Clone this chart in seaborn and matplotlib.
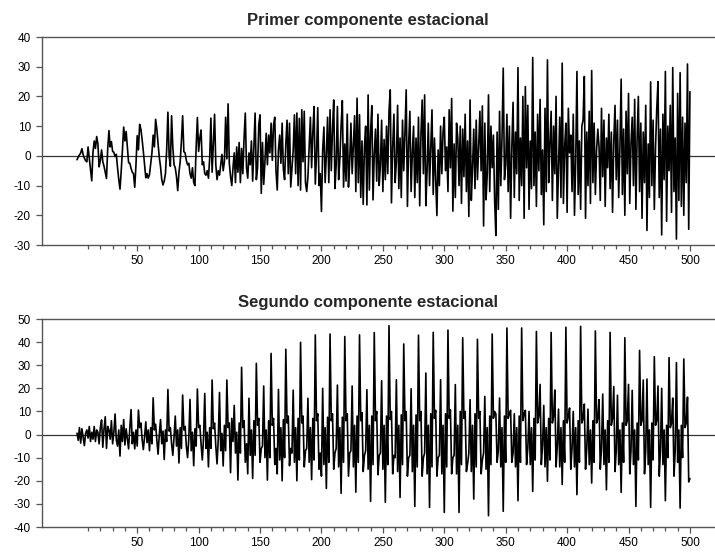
import numpy as np
import pandas as pd
import matplotlib
matplotlib.use("Agg")
import matplotlib.pyplot as plt
import seaborn as sns
from matplotlib.ticker import FixedLocator

titulo_1 = "Primer componente estacional"
titulo_2 = "Segundo componente estacional"
xticks_major = [50, 100, 150, 200, 250, 300, 350, 400, 450, 500]
xticks_minor = [v for v in range(10, 501, 10) if v % 50 != 0]
yticks_1 = [-30, -20, -10, 0, 10, 20, 30, 40]
yticks_2 = [-40, -30, -20, -10, 0, 10, 20, 30, 40, 50]

primer_componente = [
    -1.3, -0.4, 0.3, 1.0, 2.4, 0.4, -0.8, -1.6, -2.0, 3.0, -0.8, -4.5,
    -8.4, 1.2, 5.0, 2.5, 6.5, 4.0, -3.7, -1.5, 2.0, -2.0, -3.5, -5.5,
    -7.6, 2.5, 8.5, 3.0, 4.8, 1.5, 1.2, -0.2, 0.5, -4.0, -8.0, -11.2,
    -5.0, 2.0, 9.7, 5.0, 8.2, 3.0, -2.3, -2.5, -4.2, -5.5, -6.0, -10.6,
    -3.0, 6.8, 2.0, 10.6, 9.0, 5.5, 1.5, -3.0, -7.4, -6.0, -7.5, -6.3,
    -2.5, 1.0, 7.0, 3.0, 12.3, 9.0, 4.0, -0.5, -3.7, -8.0, -9.8, -8.5,
    -6.0, 2.0, 14.7, 0.0, -3.5, 13.5, 3.0, -3.0, -4.0, -7.0, -11.7, -5.5,
    -2.0, 5.0, 13.5, 1.4, 1.0, -1.5, -3.0, -2.5, -6.0, -7.5, -4.0, -9.0,
    -10.0, 3.0, 12.9, 1.5, 6.0, 8.7, -3.0, -2.0, -6.0, -6.5, -5.0, -7.5,
    -1.0, 12.7, -5.5, 4.0, 14.0, -3.0, -8.0, -5.0, -6.5, -3.0, 0.5, -5.0,
    -2.0, 13.0, -1.0, 17.5, -2.5, -7.0, -10.0, -4.0, 1.0, -9.0, 3.0, -5.5,
    4.5, -9.0, 2.5, -6.0, 6.0, 14.4, -4.0, -7.5, 1.0, -3.0, 5.0, -8.5,
    3.0, 14.4, -8.0, -4.0, 10.5, 13.8, -12.6, 4.5, -9.6, -2.0, 7.6, -3.0,
    7.0, 1.0, 11.0, -1.5, 10.5, 13.0, -5.0, -11.5, 2.0, 7.0, -2.5, 11.0,
    -4.5, -8.0, 4.0, 12.0, -6.0, 11.0, -10.5, -4.0, 2.0, 13.8, -6.0, 14.4,
    -10.0, 12.6, -11.5, 15.5, -2.0, 15.0, -9.0, -12.0, -7.0, 3.0, 13.0, -4.0,
    8.0, 16.6, -9.5, 0.5, 16.2, -10.0, -6.0, -18.7, 2.0, 9.7, -9.0, 0.5,
    13.0, -9.0, 15.5, -5.0, 9.0, 18.8, -11.0, -3.0, 16.6, -8.0, -1.0, 10.0,
    18.6, -10.5, 4.0, -8.5, 14.0, -10.5, -2.0, 11.0, -6.0, 4.0, 13.5, -12.0,
    19.4, -9.0, 13.8, -14.0, 5.0, -16.3, 3.0, 10.0, -16.5, 20.5, -11.5, 8.0,
    16.9, -14.8, 0.5, 9.0, -8.5, 14.0, -10.0, -3.0, 12.0, -12.0, 5.5, -8.0,
    10.0, -6.0, 15.0, 22.2, -15.8, 3.0, 14.0, -9.0, -2.0, 17.0, -11.0, 6.0,
    -14.0, 12.0, -5.0, 8.0, 22.2, -17.0, 4.0, 15.0, -12.0, 1.0, 10.0, -14.0,
    6.0, -9.0, 13.0, -16.8, 7.0, 18.8, -6.0, 20.5, -16.8, -5.0, 11.0, -10.0,
    3.0, 15.5, -13.0, 6.0, -8.0, -20.1, 2.0, -10.0, 10.0, -6.0, 8.0, 13.0,
    -5.0, 3.0, -12.0, 15.5, -4.0, 19.3, -18.6, 4.0, -14.0, 11.0, 6.0, -10.0,
    10.0, -16.0, 9.0, -7.0, 14.0, -12.0, 5.0, -20.4, 18.8, -15.0, -4.0, 9.0,
    -11.0, 12.0, -8.0, 3.0, 15.0, -5.0, 16.8, -23.6, 11.0, -14.8, -6.0, 20.5,
    -12.0, 10.0, -4.0, 7.0, -15.0, -26.8, 8.0, -18.0, 15.0, -10.0, 6.0, 29.5,
    -8.0, -3.0, 14.0, -12.0, 10.0, -21.0, 3.0, 18.0, -14.0, 8.0, -6.0, 29.7,
    -15.0, 6.0, -10.0, 20.0, -21.0, 23.3, -4.0, 17.0, -18.0, 5.0, -11.0, 33.1,
    -10.0, 8.0, -17.0, 14.0, -5.0, 19.0, -13.0, 2.0, -23.2, 16.0, -12.0, 32.3,
    -9.0, 4.0, 15.0, -15.0, 10.0, -6.0, 20.0, -21.0, -4.0, 13.0, -14.0, 31.2,
    -16.0, 3.0, 11.0, -19.0, 16.0, 1.0, 7.0, -12.0, 14.0, -20.0, -2.0, 28.4,
    -13.0, 5.0, -18.0, 10.0, 12.0, 26.7, -21.0, 8.0, -10.0, 15.0, -16.0, 28.7,
    -9.0, 11.0, -13.0, 2.0, 9.0, 3.0, -15.0, 16.0, -7.0, 12.0, -17.0, 6.0,
    -4.0, 14.0, -11.0, 8.0, -19.0, 5.0, 17.0, -8.0, 12.0, -14.0, 3.0, 25.8,
    -13.0, 9.0, -20.0, 15.0, -6.0, 21.0, -16.0, 4.0, 13.0, -10.0, 19.0, -18.0,
    6.0, 20.0, -12.0, 11.0, -21.0, 8.0, -9.0, 17.0, -25.1, 4.0, -14.0, 24.9,
    -10.0, 12.0, -18.0, 3.0, 16.0, 25.0, -14.0, 9.0, -26.6, 14.0, -8.0, 28.4,
    -22.0, 10.0, -5.0, 17.0, -19.0, 29.7, -12.0, 6.0, -28.0, 21.0, -15.0, 28.0,
    -17.0, 13.0, -20.0, 11.0, -9.0, 30.9, -24.7, 21.6,
]

segundo_componente = [
    0.6, -2.5, 3.0, -3.7, 2.5, -1.0, -4.8, 0.5, 2.0, -1.5, 3.5, -3.0,
    1.0, -2.0, 3.5, -3.0, 2.0, 1.0, -4.0, 3.0, 6.3, -5.5, 2.5, 7.7,
    -6.0, 3.5, 2.0, -2.0, 6.0, -4.0, 1.0, 8.9, -2.5, -5.0, 2.0, -9.3,
    4.0, -3.0, 6.5, -4.5, 2.5, -2.0, -6.2, 3.0, 10.8, -4.0, 1.0, -6.2,
    2.0, -5.0, 10.6, 3.0, 5.0, -2.0, -6.5, -1.0, 5.5, -3.5, 2.0, -7.0,
    3.0, -4.0, 15.9, 2.0, 4.5, -2.5, -8.5, 0.0, 6.5, -4.0, 1.5, -10.8,
    2.0, -3.0, 19.5, 1.5, 3.0, -4.0, -9.0, -1.0, 8.0, -5.0, 2.0, -12.3,
    3.0, -6.0, 17.1, 2.0, 3.5, -5.0, -10.0, -2.0, 15.2, -7.0, 1.0, -13.5,
    2.5, -5.0, 19.7, 3.0, 4.0, -4.0, -11.0, -1.5, 17.8, -6.0, 1.0, -14.0,
    3.0, -6.0, 23.6, 2.5, 5.0, -5.0, -12.7, -2.0, 18.2, -7.0, 0.5, -13.6,
    4.0, -7.0, 23.6, 3.0, 5.0, -16.5, 7.0, -3.0, 12.6, -8.0, 1.0, -19.7,
    5.0, -8.0, 29.1, 3.0, 6.0, -12.0, -4.0, -17.0, 15.7, -9.0, 2.0, -19.0,
    6.0, -9.0, 30.8, 4.0, 7.0, -12.0, -6.0, -5.0, 21.0, -10.0, 2.0, -19.7,
    6.0, -10.0, 35.1, 4.0, 7.0, -13.0, -6.0, -17.0, 19.5, -11.0, 3.0, -20.0,
    6.5, -10.0, 36.9, 5.0, 8.0, -13.5, -6.0, -8.0, 19.2, -12.0, 3.0, -20.0,
    7.0, -11.0, 39.9, 5.0, 8.0, -14.0, -7.0, -6.0, 15.7, -12.0, 3.0, -19.5,
    7.0, -11.0, 43.1, 6.0, 9.0, -15.0, -8.0, -18.0, 20.0, -13.0, 3.0, -23.3,
    7.5, -12.0, 43.5, 6.0, 9.0, -15.0, -8.0, -6.0, 21.4, -14.0, 3.0, -25.4,
    7.5, -12.0, 42.4, 6.0, 9.0, -18.0, -8.0, -7.0, 21.0, -14.0, 4.0, -24.9,
    8.0, -12.0, 43.1, 6.0, 9.5, -16.0, -9.0, -7.0, 19.4, -15.0, 4.0, -28.9,
    8.0, -13.0, 44.1, 6.0, 10.0, -17.4, -9.0, -8.0, 23.3, -15.0, 4.0, -29.3,
    8.0, -13.0, 47.1, 6.5, 10.0, -17.0, -9.0, -10.0, 23.7, -16.0, 4.0, -27.2,
    8.5, -13.0, 39.2, 6.0, 10.0, -18.0, -10.0, -9.0, 19.8, -16.0, 4.0, -31.1,
    8.5, -14.0, 43.0, 6.0, 10.0, -18.0, -10.0, -8.0, 26.6, -17.0, 4.0, -31.5,
    9.0, -14.0, 44.2, 7.0, 10.5, -18.0, -10.0, -9.0, 23.7, -17.0, 4.0, -33.7,
    9.0, -14.0, 45.2, 7.0, 10.7, -17.0, -10.0, -9.0, 21.6, -17.0, 4.0, -33.7,
    10.0, -13.0, 41.9, 7.0, 10.0, -16.0, -12.6, -8.0, 15.1, -16.0, 4.0, -27.9,
    9.0, -14.0, 41.2, 7.0, 10.0, -17.0, -11.0, -8.0, 16.5, -15.0, 3.0, -35.1,
    8.0, -13.0, 43.5, 7.0, 10.0, 9.0, -12.0, -7.0, 15.8, -14.0, 3.0, -33.2,
    8.0, -12.0, 46.1, 7.0, 9.0, 10.5, -12.0, -8.0, 9.0, -14.0, 3.0, -28.6,
    8.0, -12.0, 46.1, 6.0, 9.0, 10.5, -13.0, -6.0, 10.0, -13.0, 3.0, -24.6,
    7.0, -11.0, 44.6, 5.0, 8.0, 21.7, -13.0, -5.0, 12.6, -14.0, 3.0, -20.2,
    7.0, -11.0, 44.2, 5.0, 8.0, 19.3, -14.0, -5.0, 11.0, -14.0, 3.0, -21.6,
    6.0, -12.0, 46.4, 5.0, 8.0, 11.5, -15.0, -6.0, 10.0, -14.0, 3.0, -26.0,
    6.0, -12.0, 46.8, 5.0, 7.0, 13.2, -15.0, -6.0, 11.0, -13.0, 2.0, -21.0,
    6.0, -12.0, 44.8, 5.0, 7.0, 15.1, -15.0, -6.0, 17.5, -13.0, 2.0, -23.9,
    6.0, -12.0, 44.2, 4.0, 7.0, 20.8, -16.0, -7.0, 17.0, -13.0, 2.0, -25.0,
    5.0, -12.0, 41.9, 4.0, 6.0, 21.7, -17.0, -7.0, 19.1, -13.0, 2.0, -31.1,
    5.0, -11.0, 36.4, 4.0, 6.0, 23.6, -17.0, -7.0, 24.0, -13.0, 2.0, -31.5,
    5.0, -11.0, 33.7, 4.0, 6.0, 21.0, -18.0, -7.0, 20.0, -13.0, 2.0, -28.6,
    4.0, -10.0, 33.3, 3.0, 5.0, 15.8, -18.0, -7.0, 31.1, -12.0, 2.0, -31.8,
    4.0, -10.0, 32.7, 3.0, 5.0, 16.2, -20.5, -19.0,
]

sns.set_style("white")
plt.rcParams["font.family"] = ["Liberation Sans", "DejaVu Sans"]

W, H = 715, 552
fig = plt.figure(figsize=(W / 100, H / 100), dpi=100)

panels = [
    (primer_componente, titulo_1, yticks_1, (-30, 40), 37, 245, 25),
    (segundo_componente, titulo_2, yticks_2, (-40, 50), 319, 527, 307),
]

for serie, titulo, yt, ylim, top_px, bot_px, title_px in panels:
    ax = fig.add_axes([42 / W, 1 - bot_px / H, (W - 42) / W, (bot_px - top_px) / H])
    df = pd.DataFrame({"t": np.arange(1, len(serie) + 1), "v": serie})
    ax.axhline(0, color="#333333", lw=0.9, zorder=1)
    sns.lineplot(data=df, x="t", y="v", color="black", lw=1.2,
                 estimator=None, errorbar=None, ax=ax, zorder=2)
    ax.set_xlim(-27.5, 520.4)
    ax.set_ylim(*ylim)
    ax.set_xlabel("")
    ax.set_ylabel("")
    ax.xaxis.set_major_locator(FixedLocator(xticks_major))
    ax.xaxis.set_minor_locator(FixedLocator(xticks_minor))
    ax.set_yticks(yt)
    ax.set_xticklabels([str(v) for v in xticks_major])
    ax.set_yticklabels([str(v) for v in yt])
    for side in ["top", "left", "bottom"]:
        ax.spines[side].set_visible(True)
        ax.spines[side].set_color("#555555")
        ax.spines[side].set_linewidth(1.0)
    ax.spines["right"].set_visible(False)
    ax.tick_params(axis="both", which="major", direction="out", length=4,
                   width=0.9, color="#555555", labelsize=8.5, labelcolor="black",
                   bottom=True, left=True, top=False, right=False)
    ax.tick_params(axis="x", which="major", pad=3)
    ax.tick_params(axis="y", which="major", pad=4)
    ax.tick_params(axis="x", which="minor", direction="out", length=3,
                   width=0.9, color="#555555", bottom=True)
    ax.grid(False)
    fig.text(368 / W, 1 - title_px / H, titulo, ha="center", va="baseline",
             fontsize=12, fontweight="bold")

fig.savefig("out.png", dpi=100)
